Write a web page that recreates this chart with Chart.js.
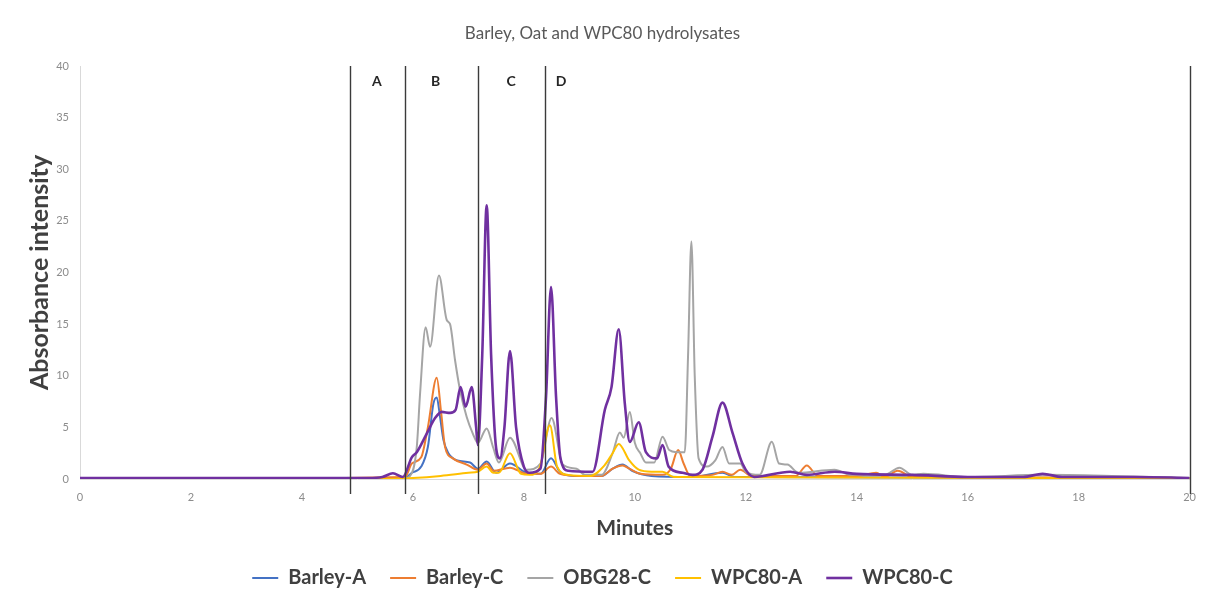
<!DOCTYPE html>
<html>
<head>
<meta charset="utf-8">
<title>Barley, Oat and WPC80 hydrolysates</title>
<script src="https://cdn.jsdelivr.net/npm/chart.js@4.4.1/dist/chart.umd.min.js"></script>
<style>
  html, body { margin: 0; padding: 0; background: #fff; }
  #wrap { width: 1208px; height: 610px; }
</style>
</head>
<body>
<div id="wrap"><canvas id="chromChart" width="1208" height="610"></canvas></div>
<script>
// Chromatogram traces (minutes vs absorbance)

const barleyATime = [0, 5.86, 5.98, 6.15, 6.27, 6.37, 6.43, 6.49, 6.55, 6.64, 6.8, 7.03, 7.17, 7.33, 7.5, 7.75, 8.05, 8.3, 8.49, 8.65, 8.9, 9.4, 9.6, 9.78, 9.95, 10.3, 11.0, 11.58, 11.8, 20];
const barleyAValue = [0, 0.1, 0.6, 1.2, 3.1, 7.3, 7.9, 6.0, 3.8, 2.5, 1.8, 1.6, 1.0, 1.7, 0.6, 1.5, 0.6, 0.5, 2.0, 0.7, 0.3, 0.3, 1.0, 1.4, 0.8, 0.3, 0.2, 0.6, 0.2, 0.1];

const barleyCTime = [0, 5.86, 5.98, 6.15, 6.27, 6.43, 6.51, 6.58, 6.72, 6.97, 7.17, 7.33, 7.45, 7.75, 8.05, 8.3, 8.49, 8.65, 9.0, 9.4, 9.6, 9.78, 9.9, 10.1, 10.5, 10.65, 10.78, 10.88, 11.0, 11.4, 11.58, 11.75, 11.9, 12.1, 12.9, 13.1, 13.3, 14.0, 14.35, 14.5, 14.74, 15.0, 20];
const barleyCValue = [0, 0.2, 1.5, 2.1, 5.0, 9.8, 6.4, 3.1, 2.0, 1.4, 0.9, 1.5, 0.8, 1.1, 0.5, 0.5, 1.2, 0.5, 0.3, 0.3, 1.0, 1.3, 1.0, 0.5, 0.4, 1.0, 2.8, 1.5, 0.3, 0.4, 0.7, 0.4, 0.9, 0.3, 0.3, 1.3, 0.3, 0.3, 0.6, 0.2, 0.8, 0.2, 0.1];

const obgTime = [0, 5.8, 5.95, 6.07, 6.13, 6.23, 6.31, 6.47, 6.61, 6.67, 6.76, 6.85, 6.97, 7.08, 7.17, 7.33, 7.45, 7.55, 7.75, 8.05, 8.3, 8.5, 8.7, 8.95, 9.1, 9.4, 9.6, 9.73, 9.8, 9.91, 10.0, 10.1, 10.2, 10.35, 10.5, 10.62, 10.75, 10.9, 10.96, 11.02, 11.08, 11.15, 11.3, 11.45, 11.58, 11.7, 11.9, 12.0, 12.25, 12.47, 12.6, 12.75, 12.95, 13.6, 13.9, 14.5, 14.77, 15.0, 15.2, 16.0, 17.35, 18.6, 20];
const obgValue = [0, 0, 0.3, 3.1, 8.3, 14.7, 12.8, 19.7, 15.4, 15.0, 11.5, 8.6, 6.0, 4.4, 3.5, 4.9, 3.0, 1.6, 4.0, 0.9, 1.5, 5.9, 1.4, 1.0, 0.4, 0.4, 2.5, 4.5, 4.0, 6.5, 3.5, 2.5, 1.6, 1.6, 4.1, 2.8, 2.6, 2.6, 12.0, 23.0, 10.0, 2.0, 1.2, 1.8, 3.1, 1.5, 1.5, 0.7, 0.4, 3.6, 1.5, 1.4, 0.6, 0.9, 0.4, 0.4, 1.1, 0.4, 0.5, 0.2, 0.4, 0.3, 0.1];

const wpcATime = [0, 5.5, 6.0, 6.5, 7.0, 7.17, 7.33, 7.45, 7.55, 7.75, 7.95, 8.1, 8.29, 8.47, 8.6, 8.8, 9.2, 9.45, 9.6, 9.71, 9.9, 10.07, 10.3, 10.5, 10.7, 20];
const wpcAValue = [0, 0, 0.1, 0.3, 0.6, 0.7, 1.2, 0.6, 0.6, 2.5, 0.5, 0.4, 1.2, 5.2, 1.2, 0.4, 0.3, 1.3, 2.5, 3.4, 1.8, 0.9, 0.7, 0.7, 0.2, 0.05];

const wpcCTime = [0, 5.2, 5.45, 5.64, 5.82, 5.98, 6.07, 6.25, 6.4, 6.52, 6.67, 6.77, 6.86, 6.95, 7.06, 7.14, 7.17, 7.25, 7.33, 7.41, 7.5, 7.57, 7.65, 7.75, 7.86, 8.0, 8.1, 8.3, 8.4, 8.49, 8.58, 8.66, 8.8, 9.24, 9.46, 9.58, 9.71, 9.82, 9.91, 10.07, 10.2, 10.4, 10.5, 10.61, 10.86, 11.04, 11.22, 11.4, 11.58, 11.76, 11.94, 12.15, 12.8, 13.1, 13.6, 14.0, 15.0, 16.0, 17.0, 17.35, 17.7, 19.0, 20];
const wpcCValue = [0.1, 0.1, 0.2, 0.55, 0.2, 2.1, 2.6, 4.4, 5.9, 6.5, 6.4, 6.7, 8.9, 7.0, 8.9, 5.0, 3.3, 12.0, 26.5, 12.0, 3.0, 2.0, 5.0, 12.4, 5.0, 1.2, 0.6, 1.0, 8.0, 18.6, 8.0, 2.0, 0.8, 0.7, 6.7, 8.9, 14.5, 7.3, 3.6, 5.5, 2.6, 2.0, 3.3, 1.2, 0.6, 0.4, 0.9, 4.1, 7.4, 4.5, 1.5, 0.2, 0.7, 0.4, 0.7, 0.5, 0.4, 0.2, 0.2, 0.5, 0.2, 0.2, 0.1];

const seriesNames = ["Barley-A", "Barley-C", "OBG28-C", "WPC80-A", "WPC80-C"];
const seriesColors = ["#4472C4", "#ED7D31", "#A5A5A5", "#FFC000", "#7030A0"];

// fraction boundaries (minutes) and where the letters sit
const sectionLines = [4.86, 5.86, 7.17, 8.38, 20];
const sectionNames = ["A", "B", "C", "D"];
const sectionLabelAt = [5.35, 6.41, 7.77, 8.67];

const yTicksMax = 40;
const yTicksStep = 5;
const xTicksMax = 20;
const xTicksStep = 2;

function toPoints(times, values) {
  return times.map((t, i) => ({ x: t, y: values[i] }));
}

const traces = [
  toPoints(barleyATime, barleyAValue),
  toPoints(barleyCTime, barleyCValue),
  toPoints(obgTime, obgValue),
  toPoints(wpcATime, wpcAValue),
  toPoints(wpcCTime, wpcCValue),
];

const FONT = 'Lato, "Open Sans", sans-serif';

// draws the fraction separators A-D
const sectionPlugin = {
  id: "sections",
  afterDatasetsDraw(chart) {
    const { ctx, chartArea, scales } = chart;
    ctx.save();
    ctx.strokeStyle = "#3b3b3b";
    ctx.lineWidth = 1.4;
    sectionLines.forEach((t) => {
      const px = Math.round(scales.x.getPixelForValue(t)) + 0.5;
      ctx.beginPath();
      ctx.moveTo(px, chartArea.top);
      ctx.lineTo(px, chartArea.bottom + 15);
      ctx.stroke();
    });
    ctx.fillStyle = "#262626";
    ctx.font = "bold 14px " + FONT;
    ctx.textAlign = "center";
    ctx.textBaseline = "middle";
    sectionNames.forEach((name, i) => {
      ctx.fillText(name, scales.x.getPixelForValue(sectionLabelAt[i]), chartArea.top + 15);
    });
    ctx.restore();
  },
};

const ctx = document.getElementById("chromChart").getContext("2d");
new Chart(ctx, {
  type: "line",
  data: {
    datasets: seriesNames.map((name, i) => ({
      label: name,
      data: traces[i],
      borderColor: seriesColors[i],
      backgroundColor: seriesColors[i],
      borderWidth: i === 4 ? 2.6 : 2,
      pointRadius: 0,
      pointHoverRadius: 0,
      cubicInterpolationMode: "monotone",
      fill: false,
      order: 5 - i, // later series drawn on top, like the original
    })),
  },
  options: {
    responsive: false,
    animation: false,
    layout: { padding: { left: 15, right: 18, top: 0, bottom: 12 } },
    plugins: {
      title: {
        display: true,
        text: "Barley, Oat and WPC80 hydrolysates",
        color: "#595959",
        font: { family: FONT, size: 17, weight: "normal" },
        padding: { top: 23, bottom: 22.6 },
      },
      legend: {
        position: "bottom",
        labels: {
          usePointStyle: true,
          pointStyle: "line",
          pointStyleWidth: 26,
          padding: 24,
          color: "#404040",
          font: { family: FONT, size: 20, weight: "bold" },
          sort: (a, b) => a.datasetIndex - b.datasetIndex,
        },
      },
      tooltip: { enabled: false },
    },
    scales: {
      x: {
        type: "linear",
        min: 0,
        max: xTicksMax,
        grid: { display: false, drawTicks: false },
        border: { display: true, color: "#d9d9d9", width: 1 },
        ticks: {
          stepSize: xTicksStep,
          padding: 12,
          color: "#8c8c8c",
          font: { family: FONT, size: 11 },
          maxRotation: 0,
        },
        title: {
          display: true,
          text: "Minutes",
          color: "#404040",
          font: { family: FONT, size: 21, weight: "bold" },
          padding: { top: 0, bottom: 3 },
        },
        afterFit(scale) {
          scale.height = 65;
        },
      },
      y: {
        min: 0,
        max: yTicksMax,
        grid: { display: false, drawTicks: false },
        border: { display: true, color: "#d9d9d9", width: 1 },
        ticks: {
          stepSize: yTicksStep,
          padding: 11,
          color: "#8c8c8c",
          font: { family: FONT, size: 11 },
        },
        title: {
          display: true,
          text: "Absorbance intensity",
          color: "#404040",
          font: { family: FONT, size: 25, weight: "bold" },
          padding: { top: 10, bottom: 0 },
        },
        afterFit(scale) {
          scale.width = 65;
        },
      },
    },
  },
  plugins: [sectionPlugin],
});
</script>
</body>
</html>
